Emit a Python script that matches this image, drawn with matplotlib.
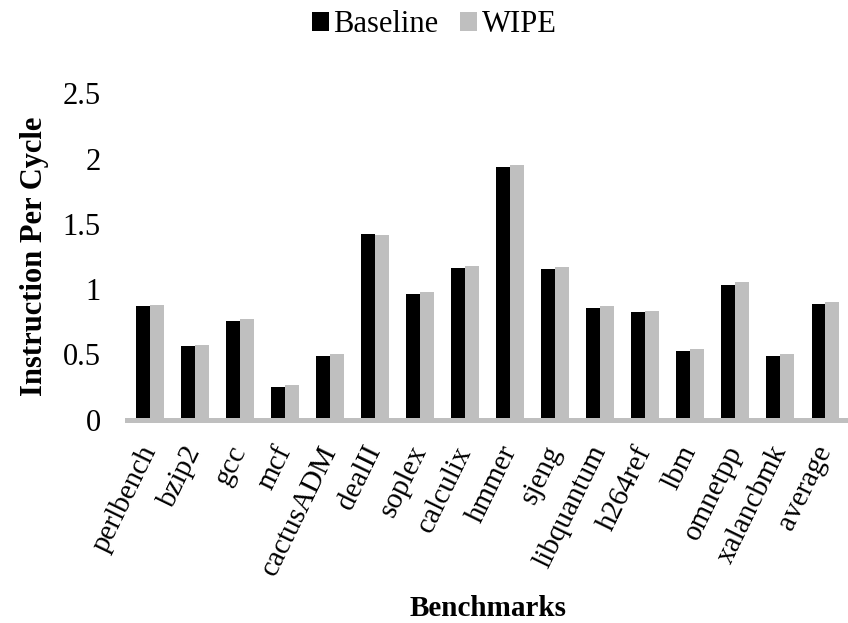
import numpy as np
import matplotlib.pyplot as plt

# IPC per benchmark
benchmarks = ['perlbench', 'bzip2', 'gcc', 'mcf', 'cactusADM', 'dealII', 'soplex',
              'calculix', 'hmmer', 'sjeng', 'libquantum', 'h264ref', 'lbm',
              'omnetpp', 'xalancbmk', 'average']
baseline = [0.874, 0.565, 0.759, 0.249, 0.486, 1.425, 0.962, 1.164, 1.937, 1.154,
            0.858, 0.822, 0.524, 1.034, 0.484, 0.886]
wipe = [0.881, 0.575, 0.769, 0.262, 0.499, 1.417, 0.976, 1.177, 1.953, 1.167,
        0.874, 0.835, 0.537, 1.052, 0.499, 0.899]

plt.rcParams['font.family'] = ['Liberation Serif', 'DejaVu Serif']

fig = plt.figure(figsize=(8.48, 6.23), dpi=100)
ax = fig.add_axes([0.150, 0.3266, 0.85, 0.5234])

x = np.arange(len(benchmarks))
w = 0.31
ax.bar(x - w / 2, baseline, w, color='black', label='Baseline')
ax.bar(x + w / 2, wipe, w, color='#BFBFBF', label='WIPE')

ax.set_xlim(-0.5, len(benchmarks) - 0.5)
ax.set_ylim(0, 2.5)
ax.set_yticks([0, 0.5, 1, 1.5, 2, 2.5])
ax.set_yticklabels(['0', '0.5', '1', '1.5', '2', '2.5'])
ax.set_xticks(x)
ax.set_xticklabels(benchmarks, rotation=64, ha='right', va='center',
                   rotation_mode='anchor')

for s in ['top', 'right', 'left']:
    ax.spines[s].set_visible(False)
ax.spines['bottom'].set_color('#BFBFBF')
ax.spines['bottom'].set_linewidth(3.6)
ax.tick_params(axis='both', length=0)
ax.tick_params(axis='y', pad=19, labelsize=22)
ax.tick_params(axis='x', pad=20, labelsize=21)

ax.set_ylabel('Instruction Per Cycle', fontsize=22, fontweight='bold', labelpad=10)
ax.set_xlabel('Benchmarks', fontsize=21, fontweight='bold', labelpad=11)

fig.legend(loc='upper center', bbox_to_anchor=(0.512, 1.003), ncol=2, frameon=False,
           fontsize=22, handlelength=0.55, handleheight=0.55, handletextpad=0.15,
           columnspacing=0.72, borderaxespad=0)

fig.savefig('out.png', dpi=100)
